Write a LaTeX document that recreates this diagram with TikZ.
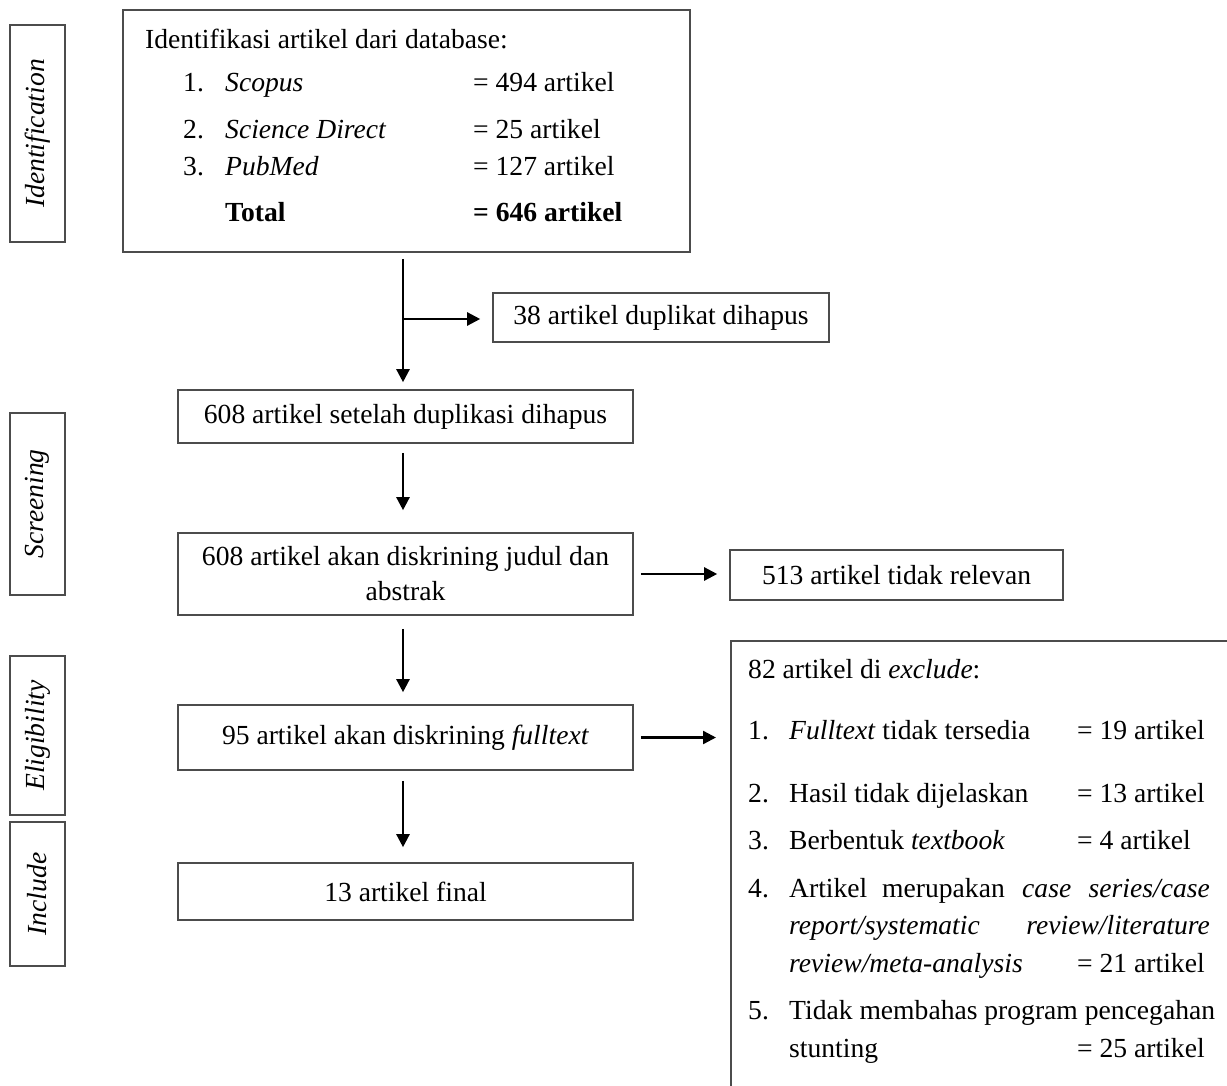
\documentclass[tikz,border=0pt]{standalone}
\usepackage{fontspec}
\setmainfont{Liberation Serif}
\usetikzlibrary{arrows.meta}
\begin{document}
\begin{tikzpicture}[x=1pt,y=-1pt,
  every node/.style={font=\fontsize{27.6}{35}\selectfont, inner sep=0pt},
  box/.style={draw=black!70, line width=1.6pt, align=center},
  lab/.style={draw=black!70, line width=1.6pt, minimum width=55pt},
  labtxt/.style={rotate=90, font=\fontsize{27.6}{35}\selectfont\itshape},
  txt/.style={anchor=base west},
  arr/.style={draw=black, line width=2.4pt, -{Triangle[length=13pt,width=13pt]}}]
\useasboundingbox (0,0) rectangle (1227,1086);
\clip (0,0) rectangle (1227,1086);
\fill[white] (0,0) rectangle (1227,1086);
% stage labels
\node[lab, minimum height=217pt] (lid) at (37.5,133.5) {};
\node[labtxt] (tid) at (lid.center) {Identification};
\node[lab, minimum height=182pt] (lsc) at (37.5,504) {};
\node[labtxt] (tsc) at (lsc.center) {Screening};
\node[lab, minimum height=159pt] (lel) at (37.5,735.5) {};
\node[labtxt] (tel) at (lel.center) {Eligibility};
\node[lab, minimum height=144pt] (lin) at (37.5,894) {};
\node[labtxt] (tin) at (lin.center) {Include};
% box 1
\node[box, minimum width=567pt, minimum height=242pt] (b1) at (406.5,131) {};
\node[txt] (t0) at (145,49) {Identifikasi artikel dari database:};
\node[txt] (n1) at (183,92) {1.};
\node[txt] (s1) at (225,92) {\textit{Scopus}};
\node[txt] (v1) at (473,92) {= 494 artikel};
\node[txt] (n2) at (183,139) {2.};
\node[txt] (s2) at (225,139) {\textit{Science Direct}};
\node[txt] (v2) at (473,139) {= 25 artikel};
\node[txt] (n3) at (183,176) {3.};
\node[txt] (s3) at (225,176) {\textit{PubMed}};
\node[txt] (v3) at (473,176) {= 127 artikel};
\node[txt] (st) at (225,222) {\textbf{Total}};
\node[txt] (vt) at (473,222) {\textbf{= 646 artikel}};
% other boxes
\node[box, minimum width=336pt, minimum height=49pt] (dup) at (661,317.5) {38 artikel duplikat dihapus};
\node[box, minimum width=455pt, minimum height=53pt] (b2) at (405.5,416.5) {608 artikel setelah duplikasi dihapus};
\node[box, minimum width=455pt, minimum height=82pt] (b3) at (405.5,574) {608 artikel akan diskrining judul dan\\abstrak};
\node[box, minimum width=333pt, minimum height=50pt] (rel) at (896.5,575) {513 artikel tidak relevan};
\node[box, minimum width=455pt, minimum height=65pt] (b4) at (405.5,737.5) {95 artikel akan diskrining \textit{fulltext}};
\node[box, minimum width=455pt, minimum height=57pt] (b5) at (405.5,891.5) {13 artikel final};
\node[box, minimum width=520pt, minimum height=480pt, anchor=north west] (ex) at (730,640) {};
% exclude text
\node[txt] (e0) at (748,678) {82 artikel di \textit{exclude}:};
\node[txt] (e1n) at (748,739) {1.};
\node[txt] (e1t) at (789,739) {\textit{Fulltext} tidak tersedia};
\node[txt] (e1v) at (1077,739) {= 19 artikel};
\node[txt] (e2n) at (748,802) {2.};
\node[txt] (e2t) at (789,802) {Hasil tidak dijelaskan};
\node[txt] (e2v) at (1077,802) {= 13 artikel};
\node[txt] (e3n) at (748,849) {3.};
\node[txt] (e3t) at (789,849) {Berbentuk \textit{textbook}};
\node[txt] (e3v) at (1077,849) {= 4 artikel};
\node[txt] (e4n) at (748,897) {4.};
\node[txt] (e4a) at (789,897) {Artikel};
\node[txt] (e4b) at (882,897) {merupakan};
\node[txt] (e4c) at (1022,897) {\textit{case}};
\node[anchor=base east] (e4d) at (1210,897) {\textit{series/case}};
\node[txt] (e5a) at (789,934) {\textit{report/systematic}};
\node[anchor=base east] (e5b) at (1210,934) {\textit{review/literature}};
\node[txt] (e6a) at (789,972) {\textit{review/meta-analysis}};
\node[txt] (e6v) at (1077,972) {= 21 artikel};
\node[txt] (e7n) at (748,1019) {5.};
\node[txt] (e7t) at (789,1019) {Tidak membahas program pencegahan};
\node[txt] (e8t) at (789,1057) {stunting};
\node[txt] (e8v) at (1077,1057) {= 25 artikel};
% connectors
\coordinate (tx) at (403,0);
\coordinate (br) at (403,319);
\draw[arr, shorten <=6pt, shorten >=7pt] (b1.south -| tx) -- (b2.north -| tx);
\draw[arr, shorten >=12pt] (br) -- (br -| dup.west);
\draw[arr, shorten <=9pt, shorten >=22pt] (b2.south -| tx) -- (b3.north -| tx);
\draw[arr, shorten <=7pt, shorten >=12pt] (b3.east) -- (rel.west |- b3.east);
\draw[arr, shorten <=13pt, shorten >=12pt] (b3.south -| tx) -- (b4.north -| tx);
\draw[arr, shorten <=7pt, shorten >=14pt] (b4.east) -- (ex.west |- b4.east);
\draw[arr, shorten <=10pt, shorten >=15pt] (b4.south -| tx) -- (b5.north -| tx);
\end{tikzpicture}
\end{document}
